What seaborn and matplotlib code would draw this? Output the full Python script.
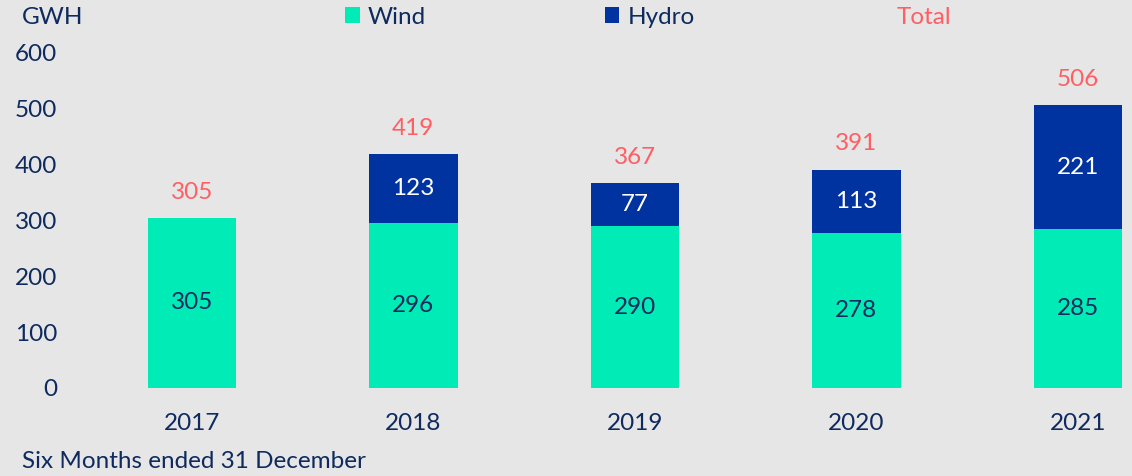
import matplotlib
matplotlib.use("Agg")
import matplotlib.pyplot as plt
import seaborn as sns
import pandas as pd
from matplotlib.patches import Patch
from matplotlib.lines import Line2D

years = ["2017", "2018", "2019", "2020", "2021"]
wind = [305, 296, 290, 278, 285]
hydro = [0, 123, 77, 113, 221]
total = [305, 419, 367, 391, 506]
yticks = [0, 100, 200, 300, 400, 500, 600]

WIND_C = "#00EBB5"
HYDRO_C = "#0033A0"
TOTAL_C = "#FF5F64"
TEXT_C = "#0E2A5E"
BG = "#E6E6E6"
FS = 17.5

sns.set_theme(style="white")
plt.rcParams["font.family"] = ["Lato", "DejaVu Sans"]

df = pd.DataFrame({"year": years, "wind": wind, "hydro": hydro, "total": total})

fig = plt.figure(figsize=(11.32, 4.76), dpi=100, facecolor=BG)
ax = fig.add_axes([70 / 1132, 88 / 476, (1131 - 70) / 1132, (388 - 53) / 476])
ax.set_facecolor(BG)

sns.barplot(data=df, x="year", y="total", order=years, color=HYDRO_C,
            width=0.4, saturation=1, ax=ax, linewidth=0)
sns.barplot(data=df, x="year", y="wind", order=years, color=WIND_C,
            width=0.4, saturation=1, ax=ax, linewidth=0)

ax.set_xlim(-0.55, 4.24)
ax.set_ylim(0, 600)
ax.set_yticks(yticks)
ax.set_yticklabels([str(v) for v in yticks])
for s in ax.spines.values():
    s.set_visible(False)
ax.tick_params(axis="y", length=0, pad=9, labelsize=FS, labelcolor=TEXT_C)
ax.tick_params(axis="x", length=0, pad=18, labelsize=FS, labelcolor=TEXT_C)
ax.set_xlabel("")
ax.set_ylabel("")

for i in range(len(years)):
    ax.text(i, wind[i] / 2, str(wind[i]), ha="center", va="center",
            fontsize=FS, color=TEXT_C)
    if hydro[i] > 0:
        ax.text(i, wind[i] + hydro[i] / 2, str(hydro[i]), ha="center",
                va="center", fontsize=FS, color="white")
    ax.annotate(str(total[i]), (i, total[i]), xytext=(0, 18.5),
                textcoords="offset points", ha="center", va="center",
                fontsize=FS, color=TOTAL_C, annotation_clip=False)

fig.text(22 / 1132, 1 - 17 / 476, "GWH", ha="left", va="center",
         fontsize=FS, color=TEXT_C)
fig.text(22 / 1132, 1 - 461 / 476, "Six Months ended 31 December",
         ha="left", va="center", fontsize=FS, color=TEXT_C)

handles = [Patch(facecolor=WIND_C, edgecolor="none", label="Wind"),
           Patch(facecolor=HYDRO_C, edgecolor="none", label="Hydro"),
           Line2D([], [], color="none", label="Total")]
leg = fig.legend(handles=handles, loc="center left",
                 bbox_to_anchor=(345 / 1132, 1 - 17 / 476), ncol=3,
                 frameon=False, fontsize=FS, handlelength=0.6,
                 handleheight=0.6, handletextpad=0.35, columnspacing=7.35,
                 borderaxespad=0, borderpad=0)
for t, c in zip(leg.get_texts(), [TEXT_C, TEXT_C, TOTAL_C]):
    t.set_color(c)

fig.savefig("out.png", dpi=100, facecolor=BG)
